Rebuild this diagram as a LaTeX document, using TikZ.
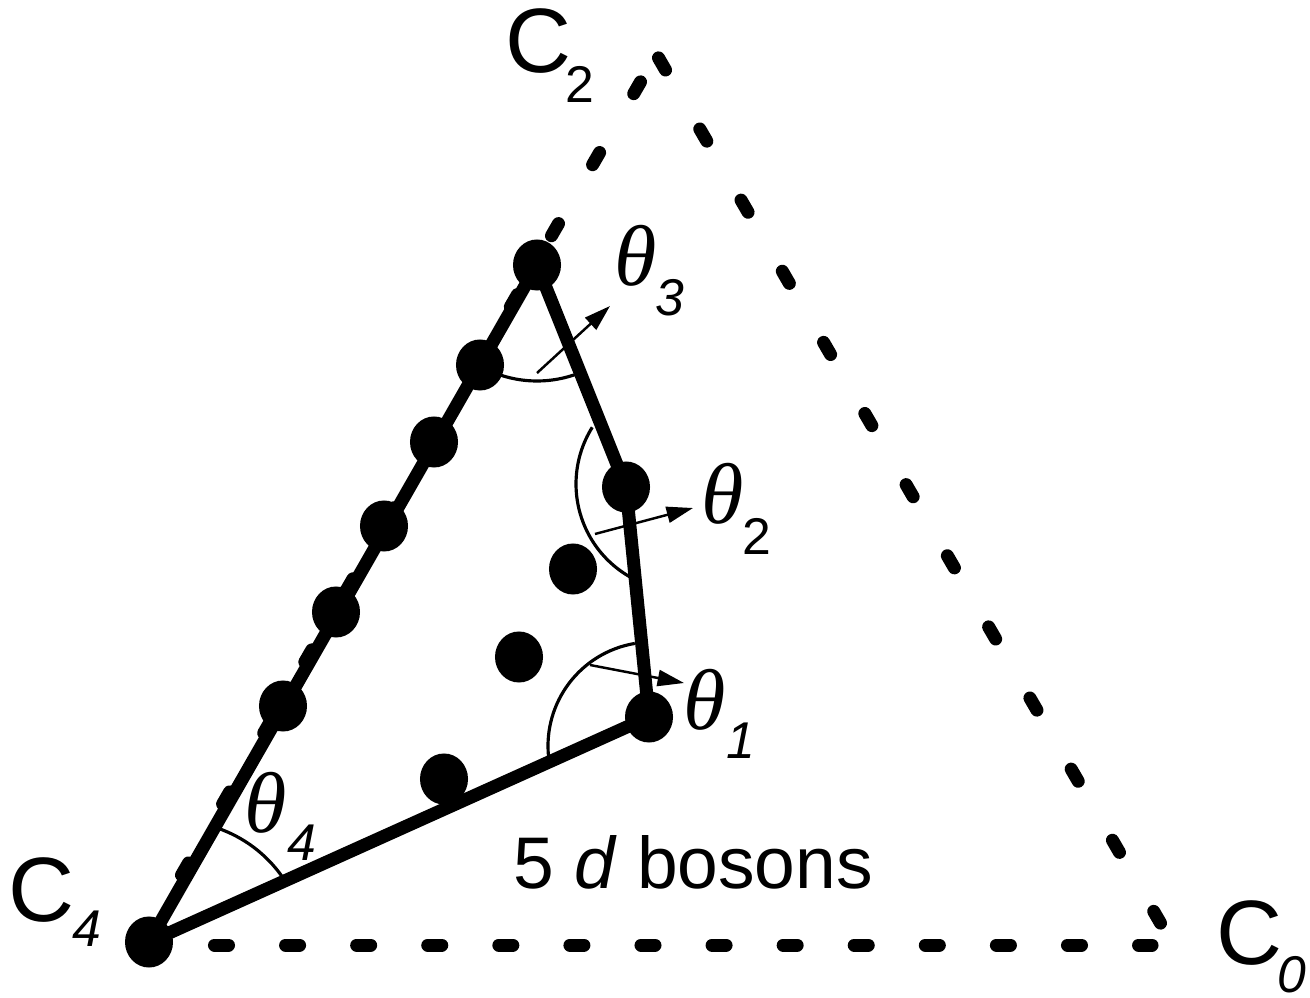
\documentclass[tikz,border=0pt]{standalone}
\usepackage{fontspec}
\setmainfont{Liberation Sans}
\newfontfamily\thfont{Liberation Serif}
\usetikzlibrary{shapes.geometric,arrows.meta}
\begin{document}
\begin{tikzpicture}[x=0.01cm,y=-0.01cm,
  dot/.style={ellipse,fill=black,inner sep=0pt,minimum width=0.48cm,minimum height=0.51cm},
  bar/.style={line width=3.7pt},
  dashline/.style={line width=3.7pt,line cap=round,dash pattern=on 0.14cm off #1},
  anglearc/.style={line width=0.9pt},
  vec/.style={line width=0.7pt,-{Triangle[length=7.5pt,width=4.6pt]}},
  bigC/.style={inner sep=0pt,font=\fontsize{26}{30}\selectfont},
  sub/.style={inner sep=0pt,font=\fontsize{14.7}{17}\selectfont},
  subit/.style={inner sep=0pt,font=\fontsize{14.7}{17}\selectfont\itshape},
  th/.style={inner sep=0pt,font=\fontsize{24.5}{28}\selectfont\thfont\itshape},
  txt/.style={inner sep=0pt,font=\fontsize{20.8}{24}\selectfont}
]
\useasboundingbox (0,0) rectangle (1310,998);

% dashed triangle
\coordinate (hA) at (214.5,945); \coordinate (hB) at (1152,945);
\draw[dashline=0.5704cm] (hA) -- (hB);
\coordinate (rA) at (658.5,57.9); \coordinate (rB) at (1160.5,923.1);
\draw[dashline=0.6818cm] (rA) -- (rB);
\coordinate (lA) at (181.5,875.1); \coordinate (lB) at (640.5,81.9);
\draw[dashline=0.6803cm] (lA) -- (lB);

% angle arcs
\coordinate (a4) at (175,952);
\draw[anglearc] (a4) ++(-71.3:131) arc[start angle=-71.3,end angle=-35,radius=131];
\coordinate (a3) at (537,265);
\draw[anglearc] (a3) ++(-240:116) arc[start angle=-240,end angle=-292,radius=116];
\coordinate (a2) at (683,484);
\draw[anglearc] (a2) ++(-148:107) arc[start angle=-148,end angle=-240,radius=107];
\coordinate (a1) at (652,746);
\draw[anglearc] (a1) ++(-99.5:104) arc[start angle=-99.5,end angle=-186,radius=104];

% arrows
\coordinate (v3a) at (537,373); \coordinate (v3b) at (610,306);
\draw[vec] (v3a) -- (v3b);
\coordinate (v2a) at (595,534); \coordinate (v2b) at (693,508);
\draw[vec] (v2a) -- (v2b);
\coordinate (v1a) at (590,665); \coordinate (v1b) at (684,683);
\draw[vec] (v1a) -- (v1b);

% dots
\node[dot] (pC4) at (149,942) {};
\node[dot] (pT) at (537,265) {};
\node[dot] (p6) at (480,365) {};
\node[dot] (p7) at (434,442) {};
\node[dot] (p8) at (384,526) {};
\node[dot] (p9) at (336,612) {};
\node[dot] (p10) at (283,706) {};
\node[dot] (pD2) at (626,487) {};
\node[dot] (pD1) at (649,717) {};
\node[dot] (q1) at (573,569) {};
\node[dot] (q2) at (519,657) {};
\node[dot] (q3) at (444,779) {};

\draw[bar] (pC4.center) -- (pT.center) -- (pD2.center) -- (pD1.center) -- (pC4.center);

% labels
\node[bigC] (lC2) at (539,41) {C};
\node[sub] (lC2s) at (580,84) {2};
\node[bigC] (lC0) at (1249,933) {C};
\node[subit] (lC0s) at (1292,975) {0};
\node[bigC] (lC4) at (42,890) {C};
\node[subit] (lC4s) at (87,929) {4};
\node[th] (t3) at (636,256) {θ};
\node[subit] (t3s) at (670,298) {3};
\node[th] (t2) at (723,494) {θ};
\node[sub] (t2s) at (757,536) {2};
\node[th] (t1) at (705,700) {θ};
\node[subit] (t1s) at (741,741) {1};
\node[th] (t4) at (266,803) {θ};
\node[subit] (t4s) at (302,843) {4};
\node[txt] (bos) at (693,862) {5 \textit{d} bosons};
\end{tikzpicture}
\end{document}
